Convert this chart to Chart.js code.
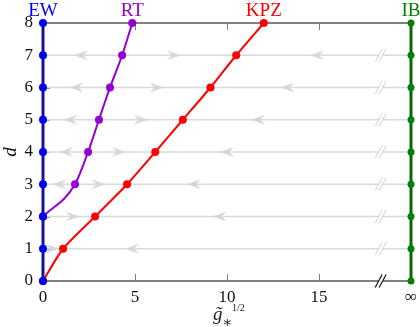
<!DOCTYPE html>
<html>
<head>
<meta charset="utf-8">
<script src="https://cdn.jsdelivr.net/npm/chart.js@4.4.0/dist/chart.umd.min.js"></script>
<style>
  html,body{margin:0;padding:0;background:#fff}
  #wrap{width:420px;height:327px;position:relative}
</style>
</head>
<body>
<div id="wrap"><canvas id="chart"></canvas></div>
<script>
/* fixed-point lines: d vs g*^(1/2), "infinity" drawn at x = 20 */
const dims = [0,1,2,3,4,5,6,7,8];
const ewX  = [0,0,0,0,0,0,0,0,0];
const rtD  = [2,3,4,5,6,7,8];
const rtX  = [0,1.74,2.45,3.04,3.64,4.3,4.85];
const kpzX = [0,1.09,2.83,4.57,6.1,7.6,9.1,10.5,12.0];
const INF_X = 20;
const ibX  = [20,20,20,20,20,20,20,20,20];
const BREAK_X = 18.35;
const xTicks = [0,5,10,15,20];
const yTicks = [0,1,2,3,4,5,6,7,8];

/* flow arrows (rows at integer d) */
const flowD    = [1,2,3,4,5,6,7];
const arrowD   = [1,1, 2,2, 3,3,3, 4,4,4, 5,5,5, 6,6,6, 7,7,7];
const arrowX   = [0.49,4.85, 1.6,9.6, 0.9,3.0,8.2, 1.27,4.12,10.0, 1.5,5.3,11.7, 1.82,6.17,13.3, 2.07,7.1,14.9];
const arrowDir = ['R','L', 'R','L', 'L','R','L', 'L','R','L', 'L','R','L', 'L','R','L', 'L','R','L'];

const labels = [
  {text:'EW',  color:'#0000ff', x:ewX[8]},
  {text:'RT',  color:'#9400d3', x:rtX[rtX.length-1]},
  {text:'KPZ', color:'#ff0000', x:kpzX[8]},
  {text:'IB',  color:'#008000', x:ibX[8]}
];

const SERIF = '"Liberation Serif", "DejaVu Serif", serif';
const GRAY = '#808080';
const FLOW = '#dadada';

function chevron(){
  const c = document.createElement('canvas');
  c.width = 14; c.height = 11;
  const g = c.getContext('2d');
  g.fillStyle = '#d6d6d6';
  g.beginPath();
  g.moveTo(14,5.5); g.lineTo(0,0.5); g.lineTo(5,5.5); g.lineTo(0,10.5);
  g.closePath(); g.fill();
  return c;
}
const arrowImg = chevron();

const pts = (xs, ys) => xs.map((x,i)=>({x:x, y:ys[i]}));

const datasets = [
  { label:'EW', data:pts(ewX,dims), showLine:true, borderColor:'#12129c', borderWidth:3,
    pointRadius:4, pointBackgroundColor:'#0000ee', pointBorderWidth:0, tension:0, order:1 },
  { label:'IB', data:pts(ibX,dims), showLine:true, borderColor:'#0b650b', borderWidth:3,
    pointRadius:3.5, pointBackgroundColor:'#008000', pointBorderWidth:0, tension:0, order:1 },
  { label:'RT', data:pts(rtX,rtD), showLine:true, borderColor:'#9400d3', borderWidth:2,
    pointRadius:4, pointBackgroundColor:'#9400d3', pointBorderWidth:0,
    cubicInterpolationMode:'monotone', order:2 },
  { label:'KPZ', data:pts(kpzX,dims), showLine:true, borderColor:'#ff0000', borderWidth:2,
    pointRadius:4, pointBackgroundColor:'#ff0000', pointBorderWidth:0, tension:0.25, order:2 },
  { label:'arrows', data:pts(arrowX,arrowD), showLine:false,
    pointStyle:arrowImg, pointRadius:7, pointRotation:arrowDir.map(d=>d==='L'?180:0), order:5 }
];
flowD.forEach(d=>{
  datasets.push({ label:'flow'+d, data:[{x:0,y:d},{x:INF_X,y:d}], showLine:true,
    borderColor:FLOW, borderWidth:1.5, pointRadius:0, order:6 });
});

function breakMark(ctx, cx, cy, color, lw){
  const dx = 4, h = 6.5, s = 3.5;
  ctx.save();
  ctx.fillStyle = '#fff';
  ctx.beginPath();
  ctx.moveTo(cx-dx/2-s, cy+h); ctx.lineTo(cx-dx/2+s, cy-h);
  ctx.lineTo(cx+dx/2+s, cy-h); ctx.lineTo(cx+dx/2-s, cy+h);
  ctx.closePath(); ctx.fill();
  ctx.strokeStyle = color; ctx.lineWidth = lw;
  [-dx/2, dx/2].forEach(o=>{
    ctx.beginPath(); ctx.moveTo(cx+o-s, cy+h); ctx.lineTo(cx+o+s, cy-h); ctx.stroke();
  });
  ctx.restore();
}

const decor = {
  id:'decor',
  beforeDatasetsDraw(chart){
    const {ctx, chartArea:a, scales:{x,y}} = chart;
    ctx.save();
    ctx.strokeStyle = GRAY; ctx.lineWidth = 2;
    ctx.beginPath(); ctx.moveTo(a.left, a.top); ctx.lineTo(a.right, a.top); ctx.stroke();
    ctx.lineWidth = 1;
    xTicks.slice(0,-1).forEach(v=>{
      const px = Math.round(x.getPixelForValue(v)) + 0.5;
      ctx.beginPath(); ctx.moveTo(px, a.bottom); ctx.lineTo(px, a.bottom-7); ctx.stroke();
      ctx.beginPath(); ctx.moveTo(px, a.top); ctx.lineTo(px, a.top+7); ctx.stroke();
    });
    yTicks.forEach(v=>{
      const py = Math.round(y.getPixelForValue(v)) + 0.5;
      ctx.beginPath(); ctx.moveTo(a.left, py); ctx.lineTo(a.left+7, py); ctx.stroke();
    });
    ctx.restore();
  },
  afterDatasetsDraw(chart){
    const {ctx, chartArea:a, scales:{x,y}} = chart;
    const bx = x.getPixelForValue(BREAK_X);
    flowD.forEach(d=> breakMark(ctx, bx, y.getPixelForValue(d), '#d0d0d0', 1));
    breakMark(ctx, bx, a.bottom, '#222', 1.3);
    ctx.save();
    ctx.font = '19px ' + SERIF;
    ctx.textAlign = 'center'; ctx.textBaseline = 'alphabetic';
    labels.forEach(l=>{
      ctx.fillStyle = l.color;
      ctx.fillText(l.text, x.getPixelForValue(l.x), a.top - 7);
    });
    // x-axis title: g~ with subscript * and superscript 1/2
    const cx = x.getPixelForValue(10);
    ctx.fillStyle = '#222';
    ctx.textAlign = 'left';
    ctx.font = 'italic 19px ' + SERIF;
    ctx.fillText('g\u0303', cx - 14, 320);
    ctx.font = '15px ' + SERIF;
    ctx.fillText('\u2217', cx - 5, 327);
    ctx.font = '10px ' + SERIF;
    ctx.fillText('1/2', cx + 5, 311);
    ctx.restore();
  }
};

new Chart(document.getElementById('chart'), {
  type:'scatter',
  data:{ datasets },
  options:{
    responsive:true, maintainAspectRatio:false, animation:false,
    layout:{ padding:{ top:23, right:9, left:0, bottom:0 } },
    clip:false,
    plugins:{ legend:{display:false}, tooltip:{enabled:false} },
    scales:{
      x:{
        type:'linear', min:0, max:INF_X,
        afterBuildTicks: s => { s.ticks = xTicks.map(v=>({value:v})); },
        afterFit: s => { s.height = 46; s.paddingLeft = 0; s.paddingRight = 0; },
        grid:{ display:false, drawTicks:false },
        border:{ display:true, color:GRAY, width:2 },
        ticks:{ color:'#111', padding:6, maxRotation:0,
          font:{ family:SERIF, size:17 },
          callback: v => v === INF_X ? '\u221E' : String(v) }
      },
      y:{
        type:'linear', min:0, max:8,
        afterBuildTicks: s => { s.ticks = yTicks.map(v=>({value:v})); },
        afterFit: s => { s.width = 43; },
        grid:{ display:false, drawTicks:false },
        border:{ display:true, color:GRAY, width:2 },
        ticks:{ color:'#111', padding:10, font:{ family:SERIF, size:17 } },
        title:{ display:true, text:'d', color:'#111', padding:0,
          font:{ family:SERIF, size:19, style:'italic' } }
      }
    }
  },
  plugins:[decor]
});
</script>
</body>
</html>
